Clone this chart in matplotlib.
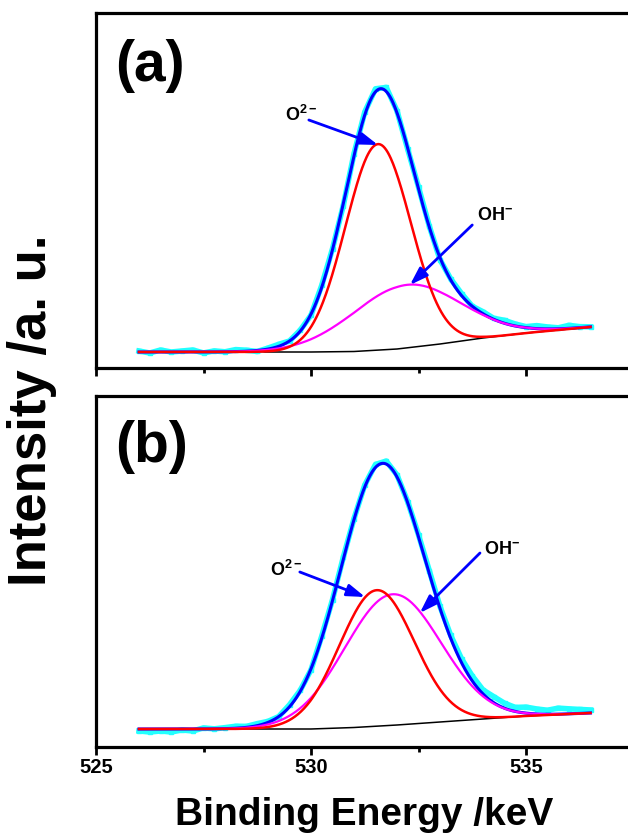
import numpy as np
import matplotlib.pyplot as plt

# Settings
plt.rcParams['font.family'] = ['Liberation Sans', 'DejaVu Sans']
plt.rcParams['font.weight'] = 'bold'
plt.rcParams['mathtext.fontset'] = 'custom'
plt.rcParams['mathtext.rm'] = 'Liberation Sans'
plt.rcParams['mathtext.bf'] = 'Liberation Sans:bold'

# measured spectrum sampling (eV)
e_start, e_stop, e_step = 526.0, 536.5, 0.25

# fitted peaks [O2-, OH-]: centre (eV), height (a.u.), FWHM (eV)
centre_a = [531.56, 532.23]
height_a = [206, 63]
fwhm_a = [1.79, 2.94]

centre_b = [531.53, 531.90]
height_b = [136, 131]
fwhm_b = [2.05, 2.64]

# background (black line)
bg_e = [526.0, 530.0, 531.0, 532.0, 533.0, 534.0, 535.0, 536.0, 536.5]
bg_a = [16, 16, 16.5, 19, 24, 30, 35, 39, 41]
bg_b = [18, 18, 19.5, 22, 25, 28, 31, 33, 34]

# scatter of the measured points around the envelope, one per sample
resid_a = [1, -1, 2, 0, 1, 2, -1, 1, 0, 2, 1, -1, 1, 2, 0, 1, -1, 2, 1, -2,
           2, 3, 3, 4, 2, -1, 2, 1, -2, 1, 2, 0, 2, 1, 3, 2, 1, 3, 2, 1,
           3, 1, 0]
resid_b = [-2, -3, -2, -3, -1, -2, 1, 0, 1, 2, 1, 2, 1, 0, 2, 1, -1, 2, 1, 2,
           1, 2, 3, 3, 2, 1, 2, 3, 2, 3, 4, 5, 4, 6, 5, 4, 6, 5, 4, 6,
           5, 4, 3]

ylim_a = 355
ylim_b = 351


def peak(x, c, h, w):
    return h * np.exp(-4 * np.log(2) * (x - c) ** 2 / w ** 2)


def draw_panel(ax, centre, height, fwhm, bg, resid, ytop):
    e_fit = np.linspace(e_start, e_stop, 600)
    bg_fit = np.interp(e_fit, bg_e, bg)
    o2 = peak(e_fit, centre[0], height[0], fwhm[0])
    oh = peak(e_fit, centre[1], height[1], fwhm[1])

    e_meas = np.arange(e_start, e_stop + e_step / 2, e_step)
    meas = (np.interp(e_meas, bg_e, bg)
            + peak(e_meas, centre[0], height[0], fwhm[0])
            + peak(e_meas, centre[1], height[1], fwhm[1])
            + np.array(resid))

    ax.plot(bg_e, bg, color='black', lw=1.1, zorder=2)
    ax.plot(e_meas, meas, color='#22ffff', lw=4, marker='s', ms=3.5,
            mec='#22ffff', zorder=3)
    ax.plot(e_fit, bg_fit + o2 + oh, color='#0000ff', lw=2.2, zorder=4)
    ax.plot(e_fit, bg_fit + oh, color='#ff00ff', lw=1.6, zorder=5)
    ax.plot(e_fit, bg_fit + o2, color='#ff0000', lw=1.8, zorder=6)

    ax.set_xlim(525, 538)
    ax.set_ylim(0, ytop)
    ax.set_yticks([])
    ax.set_xticks([525, 530, 535])
    ax.set_xticks([527.5, 532.5, 537.5], minor=True)
    ax.tick_params(axis='x', which='major', direction='out', length=6,
                   width=2, labelsize=14.5, pad=2)
    ax.tick_params(axis='x', which='minor', direction='out', length=3.5,
                   width=2)
    for s in ax.spines.values():
        s.set_linewidth(2.3)


def arrow(ax, tail, head):
    ax.annotate('', xy=head, xytext=tail,
                arrowprops=dict(arrowstyle='-|>,head_length=0.9,head_width=0.3',
                                color='#0000ff', lw=2, mutation_scale=12,
                                shrinkA=0, shrinkB=0), zorder=7)


fig = plt.figure(figsize=(6.28, 8.34), dpi=100)
ax1 = fig.add_axes([96 / 628, 1 - 368 / 834, 559 / 628, 355 / 834])
ax2 = fig.add_axes([96 / 628, 1 - 747 / 834, 559 / 628, 351 / 834])

draw_panel(ax1, centre_a, height_a, fwhm_a, bg_a, resid_a, ylim_a)
draw_panel(ax2, centre_b, height_b, fwhm_b, bg_b, resid_b, ylim_b)
ax1.tick_params(axis='x', labelbottom=False)

# panel letters
ax1.text(0.034, 0.851, '(a)', transform=ax1.transAxes, fontsize=41,
         fontweight='bold', va='center', ha='left')
ax2.text(0.034, 0.855, '(b)', transform=ax2.transAxes, fontsize=41,
         fontweight='bold', va='center', ha='left')

# peak labels
ax1.text(529.40, 253, r'$\mathbf{O}^{\mathrm{2-}}$', fontsize=13,
         ha='left', va='center')
arrow(ax1, (529.95, 248), (531.56, 223))
ax1.text(533.86, 152, r'$\mathbf{OH}^{\mathbf{-}}$', fontsize=13,
         ha='left', va='center')
arrow(ax1, (533.75, 143), (532.30, 83))

ax2.text(529.05, 177, r'$\mathbf{O}^{\mathrm{2-}}$', fontsize=13,
         ha='left', va='center')
arrow(ax2, (529.74, 175), (531.26, 150))
ax2.text(534.02, 197, r'$\mathbf{OH}^{\mathbf{-}}$', fontsize=13,
         ha='left', va='center')
arrow(ax2, (533.93, 194), (532.53, 134))

# axis titles
fig.text(364 / 628, 1 / 834, 'Binding Energy /keV', fontsize=28,
         fontweight='bold', ha='center', va='bottom')
fig.text(32 / 628, 1 - 410 / 834, 'Intensity /a. u.', fontsize=38,
         fontweight='bold', rotation=90, ha='center', va='center')

plt.savefig('out.png', dpi=100)
